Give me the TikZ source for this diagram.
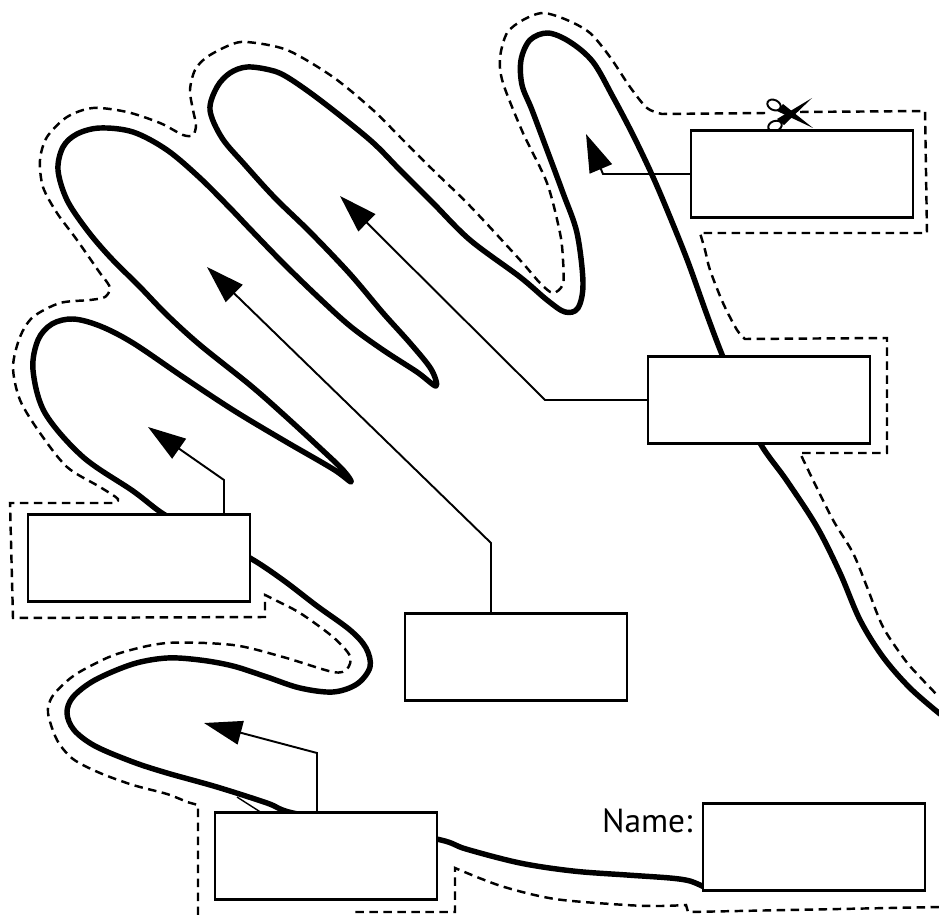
\documentclass[tikz,border=0pt]{standalone}
\usepackage{fontspec}
\newfontfamily\namefont{PT Sans}
\usetikzlibrary{arrows.meta,positioning}

\begin{document}
\begin{tikzpicture}[x=0.02cm,y=-0.02cm,inner sep=0mm,
  handline/.style={line width=3.1pt,line join=round,line cap=round},
  cutline/.style={line width=1.4pt,dash pattern=on 1.7mm off 1.1mm},
  labelbox/.style={draw,fill=white,line width=1.4pt,minimum width=4.44cm,minimum height=1.74cm},
  pointer/.style={line width=1.1pt,-{Triangle[length=7.6mm,width=4.8mm]}}]
\useasboundingbox (0,0) rectangle (939,915);

% hand outline
\draw[handline] plot[smooth,tension=0.55] coordinates {(704,887) (690,881) (670,878) (627,875) (573,871) (520,863) (466,849) (441,840) (370,826) (293,813) (267,803) (217,787) (167,773) (133,762) (95,746) (74,730) (67,713) (73,697) (95,680) (133,664) (167,658) (200,660) (233,666) (267,677) (300,688) (333,692) (357,684) (370,667) (366,648) (350,630) (317,606) (283,580) (250,558) (205,535) (165,515) (133,491) (83,457) (45,413) (33,370) (38,340) (52,324) (73,319) (100,326) (133,343) (183,377) (233,410) (283,440) (333,469) (351,482) (343,470) (320,448) (283,414) (250,385) (200,345) (167,315) (140,287) (110,257) (87,230) (67,200) (58,170) (63,147) (77,134) (100,128) (133,132) (167,150) (200,178) (230,208) (250,229) (283,263) (317,296) (350,326) (383,350) (417,372) (436,386) (431,369) (410,343) (383,313) (350,274) (310,232) (275,198) (245,165) (222,138) (210,110) (217,87) (230,73) (247,67) (270,70) (287,77) (320,100) (370,140) (400,170) (433,203) (470,240) (520,277) (547,300) (565,312) (578,308) (583,283) (577,233) (563,193) (547,150) (532,110) (522,85) (521,60) (530,40) (548,33) (570,42) (593,62) (613,97) (633,135) (653,177) (670,217) (688,262) (707,315) (723,357) (742,400) (760,443) (787,481) (817,527) (840,573) (860,620) (883,657) (910,688) (940,714)};
\draw[line width=0.8pt] (237,797) -- (262,813);

% cutting line
\draw[cutline] (939,907) -- (688,912) -- (686,905) -- plot[smooth,tension=0.5] coordinates {(686,905) (660,906) (626,905) (555,899) (501,886) (455,868)} -- (455,912) -- (351,912);
\draw[cutline] (198,915) -- (198,805) -- (187,802)
  -- plot[smooth,tension=0.5] coordinates {(187,802) (167,794) (133,785) (100,773) (73,759) (57,740) (48,713) (52,697) (67,681) (83,670) (117,654) (167,643) (233,645) (283,657) (333,672) (347,669) (350,656) (333,637) (300,613) (273,599) (265,595)}
  -- (265,617) -- (13,618) -- (10,503) -- (113,503)
  -- plot[smooth,tension=0.5] coordinates {(113,503) (118,499) (100,487) (67,467) (40,433) (20,400) (13,367) (20,337) (33,317) (60,303) (90,300) (105,297) (110,288) (104,278) (100,273) (77,240) (57,213) (43,187) (40,160) (47,137) (67,117) (93,108) (127,112) (160,123) (183,135) (193,135) (196,125) (193,110) (190,90) (195,70) (207,57) (230,45) (247,42) (287,50) (333,77) (373,110) (400,137) (433,170) (470,206) (520,260) (540,283) (553,293) (563,284) (563,260) (560,233) (547,183) (523,133) (503,83) (500,58) (507,33) (523,20) (543,13) (567,20) (590,33) (610,57) (630,87) (647,108) (662,114)}
  -- (766,113) (800,112) -- (925,111) -- (927,233) -- (700,233)
  -- plot[smooth,tension=0.5] coordinates {(700,233) (705,250) (710,270) (723,303) (737,330) (745,339)}
  -- (887,338) -- (887,453) -- (800,453)
  -- plot[smooth,tension=0.5] coordinates {(800,453) (813,480) (833,520) (853,553) (867,587) (883,627) (905,660) (920,677) (939,697)};

% scissors
\draw[line width=1.1pt,rotate around={-25:(774,105)}] (774,105) ellipse [x radius=1.4mm,y radius=1mm];
\draw[line width=1.1pt,rotate around={20:(775,126)}] (775,126) ellipse [x radius=1.4mm,y radius=1mm];
\fill (777,119) -- (812,98) -- (784,125) -- cycle;
\fill (777,111) -- (813,128) -- (783,104) -- cycle;

% label boxes
\node[labelbox] (thumb) at (802,174) {};
\node[labelbox] (index) at (759,400) {};
\node[labelbox] (ring) at (139,558) {};
\node[labelbox] (middle) at (516,657) {};
\node[labelbox] (little) at (326,856) {};
\node[labelbox] (name) at (814,847) {};
\node[left=1.8mm of name.north west,anchor=base east,yshift=-0.6cm,font=\namefont\fontsize{19pt}{19pt}\selectfont] (namelabel) {Name:};

% arrows
\coordinate (kT) at (603,175); \coordinate (tT) at (586,134);
\coordinate (kI) at (545,403); \coordinate (tI) at (340,196);
\coordinate (kM) at (491,543); \coordinate (tM) at (207,267);
\coordinate (kR) at (224,480); \coordinate (tR) at (148,427);
\coordinate (kL) at (317,753); \coordinate (tL) at (204,723);
\draw[pointer] (thumb.west) -- (thumb.west -| kT) -- (tT);
\draw[pointer] (index.west) -- (index.west -| kI) -- (tI);
\draw[pointer] (middle.north -| kM) -- (kM) -- (tM);
\draw[pointer] (ring.north -| kR) -- (kR) -- (tR);
\draw[pointer] (little.north -| kL) -- (kL) -- (tL);
\end{tikzpicture}
\end{document}
